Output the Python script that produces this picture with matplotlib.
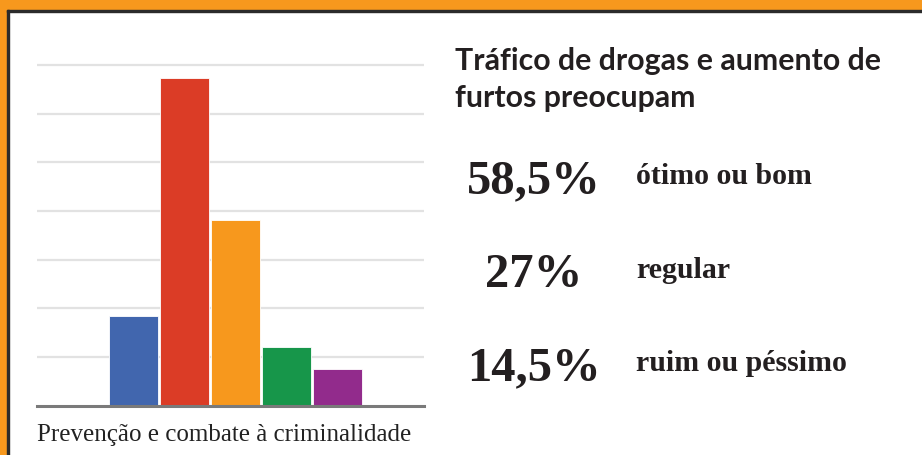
import matplotlib
matplotlib.use("Agg")
import matplotlib.pyplot as plt
from matplotlib.patches import Rectangle

# data (grid step = 10)
bar_values = [18.4, 67.3, 38.1, 12.0, 7.5]
bar_colors = ["#4166ae", "#db3c26", "#f7981d", "#17964a", "#922b8c"]
axis_label = "Prevenção e combate à criminalidade"

title_lines = ["Tráfico de drogas e aumento de", "furtos preocupam"]
percents = ["58,5%", "27%", "14,5%"]
answers = ["ótimo ou bom", "regular", "ruim ou péssimo"]

W, H = 922, 455
fig = plt.figure(figsize=(W / 100, H / 100), dpi=100)
fig.patch.set_facecolor("white")


def fx(x):
    return x / W


def fy(y):
    return 1 - y / H


# frame: orange band top and left, thin dark line inside
orange = "#f7981d"
fig.patches.append(Rectangle((0, fy(10)), 1, 10 / H, transform=fig.transFigure,
                             color=orange, zorder=0))
fig.patches.append(Rectangle((0, 0), 7 / W, 1, transform=fig.transFigure,
                             color=orange, zorder=0))
fig.patches.append(Rectangle((fx(7), fy(12)), 1, 2 / H, transform=fig.transFigure,
                             color="#2b2b2b", zorder=1))
fig.patches.append(Rectangle((fx(7), 0), 2 / W, fy(10), transform=fig.transFigure,
                             color="#2b2b2b", zorder=1))

# bar chart
top_px, base_px = 55, 405.7
ax = fig.add_axes([fx(37), fy(base_px), (424 - 37) / W, (base_px - top_px) / H])
x = list(range(len(bar_values)))
ax.bar(x, bar_values, width=0.96, color=bar_colors, edgecolor="white",
       linewidth=0.6, zorder=3)
ax.set_xlim(-1.89, 5.70)
ax.set_ylim(0, 70 * (base_px - top_px) / (base_px - 65))
ax.set_yticks(range(10, 80, 10))
ax.yaxis.grid(True, color="#e2e2e2", linewidth=1.6, zorder=0)
ax.set_xticks([])
ax.tick_params(axis="y", length=0, labelleft=False)
for s in ["top", "right", "left"]:
    ax.spines[s].set_visible(False)
ax.spines["bottom"].set_color("#7a7a7a")
ax.spines["bottom"].set_linewidth(2.2)
ax.spines["bottom"].set_zorder(4)
ax.set_facecolor("none")

fig.text(fx(37), fy(435), axis_label, fontsize=18, family="Liberation Serif",
         color="#222222", ha="left", va="center")

# right side text
fig.text(fx(455), fy(70), title_lines[0], fontsize=21.8, family="Lato",
         fontweight="bold", color="#231f20", ha="left", va="baseline")
fig.text(fx(455), fy(107), title_lines[1], fontsize=21.8, family="Lato",
         fontweight="bold", color="#231f20", ha="left", va="baseline")

num_base = [193, 287, 380]
for p, a, b in zip(percents, answers, num_base):
    fig.text(fx(534), fy(b), p, fontsize=35, family="Liberation Serif",
             fontweight="bold", color="#231f20", ha="center", va="baseline")
    fig.text(fx(636), fy(b - 9), a, fontsize=21.5, family="Liberation Serif",
             fontweight="bold", color="#231f20", ha="left", va="baseline")

fig.savefig("out.png", dpi=100, facecolor="white")
